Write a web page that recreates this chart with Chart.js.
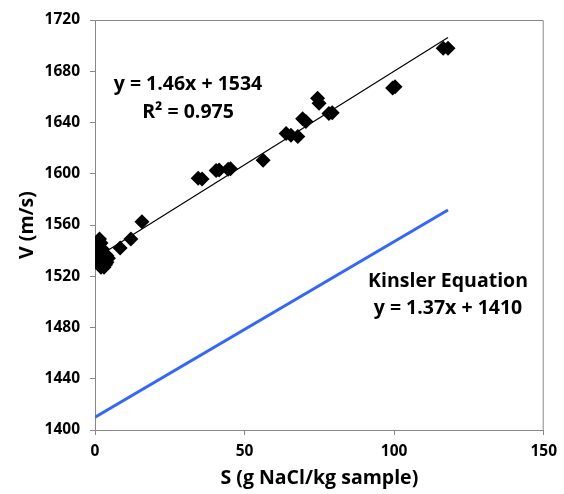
<!DOCTYPE html>
<html>
<head>
<meta charset="utf-8">
<script src="https://cdn.jsdelivr.net/npm/chart.js@4.4.1/dist/chart.umd.min.js"></script>
<style>
  html, body { margin: 0; padding: 0; background: #fff; }
  #wrap { width: 564px; height: 494px; }
</style>
</head>
<body>
<div id="wrap"><canvas id="c" width="564" height="494"></canvas></div>
<script>
// Measured salinity S (g NaCl/kg sample) and sound speed V (m/s)
const sValues = [1.5, 2, 1, 1.5, 1, 2, 1.2, 1.5, 2, 3, 3.5, 4, 4.5, 3, 2.5, 3.5, 2.5, 4,
  8.4, 12, 15.7, 34.5, 35.8, 40.5, 41.5, 44.5, 45.3, 56.2,
  63.9, 65.5, 67.8, 69.4, 70.5, 74.4, 74.9, 78.2, 79.3, 99.5, 100.3, 116.4, 118];
const vValues = [1549, 1546, 1543, 1540, 1536, 1538, 1532, 1529, 1527, 1527, 1529, 1531, 1534, 1533, 1535, 1537, 1541, 1536,
  1542, 1549, 1562.5, 1596.5, 1596, 1602.5, 1603, 1603.5, 1604, 1610.5,
  1631.5, 1630, 1629, 1643, 1640.7, 1659, 1655, 1647, 1647.7, 1667, 1668, 1698, 1698];

// Linear fit line endpoints (y = 1.46x + 1534)
const fitS = [1, 118];
const fitV = [1535.5, 1706.3];

// Kinsler equation line endpoints (y = 1.37x + 1410)
const kinslerS = [0, 118];
const kinslerV = [1410, 1571.7];

const xTicks = [0, 50, 100, 150];
const yTicks = [1400, 1440, 1480, 1520, 1560, 1600, 1640, 1680, 1720];

const fitLabel = ['y = 1.46x + 1534', 'R² = 0.975'];
const kinslerLabel = ['Kinsler Equation', 'y = 1.37x + 1410'];

const toPts = (xs, ys) => xs.map((x, i) => ({x: x, y: ys[i]}));

const FONT = '"Open Sans", "Liberation Sans", sans-serif';

const annot = {
  id: 'annot',
  afterDatasetsDraw(chart) {
    const ctx = chart.ctx;
    const a = chart.chartArea;
    ctx.save();
    ctx.strokeStyle = '#888888';
    ctx.lineWidth = 1;
    ctx.beginPath();
    ctx.moveTo(a.left, a.top + 0.5);
    ctx.lineTo(a.right - 0.5, a.top + 0.5);
    ctx.lineTo(a.right - 0.5, a.bottom);
    ctx.stroke();
    ctx.fillStyle = '#000';
    ctx.textBaseline = 'middle';
    ctx.textAlign = 'center';
    ctx.font = 'bold 19.5px ' + FONT;
    ctx.fillText(fitLabel[0], 188, 84);
    ctx.fillText(fitLabel[1], 188, 112);
    ctx.fillText(kinslerLabel[0], 448, 281);
    ctx.fillText(kinslerLabel[1], 448, 308);
    ctx.restore();
  }
};

new Chart(document.getElementById('c'), {
  type: 'scatter',
  data: {
    datasets: [
      {
        label: 'Data',
        data: toPts(sValues, vValues),
        pointStyle: 'rectRot',
        pointRadius: 7.5,
        pointBackgroundColor: '#000',
        pointBorderColor: '#000',
        pointBorderWidth: 0,
        showLine: false,
        order: 1
      },
      {
        label: 'Fit',
        data: toPts(fitS, fitV),
        showLine: true,
        borderColor: '#000',
        borderWidth: 1.2,
        pointRadius: 0,
        order: 0
      },
      {
        label: 'Kinsler',
        data: toPts(kinslerS, kinslerV),
        showLine: true,
        borderColor: '#3366FF',
        borderWidth: 3,
        pointRadius: 0,
        order: 2
      }
    ]
  },
  options: {
    responsive: false,
    animation: false,
    devicePixelRatio: 1,
    layout: { padding: { left: 0, right: 16, top: 20, bottom: 4 } },
    plugins: { legend: { display: false }, tooltip: { enabled: false } },
    scales: {
      x: {
        type: 'linear',
        min: xTicks[0],
        max: xTicks[xTicks.length - 1],
        afterBuildTicks: s => { s.ticks = xTicks.map(v => ({value: v})); },
        afterFit: s => { s.height = 60; },
        ticks: { color: '#000', font: { family: FONT, size: 15.5, weight: 'bold' }, padding: 7,
                 callback: v => String(v) },
        grid: { display: true, drawOnChartArea: false, tickLength: 5, color: '#888888' },
        border: { color: '#888888', width: 1 },
        title: { display: true, text: 'S (g NaCl/kg sample)', color: '#000',
                 font: { family: FONT, size: 19.5, weight: 'bold' }, padding: { top: 4, bottom: 0 } }
      },
      y: {
        type: 'linear',
        min: yTicks[0],
        max: yTicks[yTicks.length - 1],
        afterBuildTicks: s => { s.ticks = yTicks.map(v => ({value: v})); },
        afterFit: s => { s.width = 95; },
        ticks: { color: '#000', font: { family: FONT, size: 15.5, weight: 'bold' }, padding: 10,
                 callback: v => String(v) },
        grid: { display: true, drawOnChartArea: false, tickLength: 5, color: '#888888' },
        border: { color: '#888888', width: 1 },
        title: { display: true, text: 'V (m/s)', color: '#000',
                 font: { family: FONT, size: 19.5, weight: 'bold' }, padding: { top: 16, bottom: 0 } }
      }
    }
  },
  plugins: [annot]
});
</script>
</body>
</html>
